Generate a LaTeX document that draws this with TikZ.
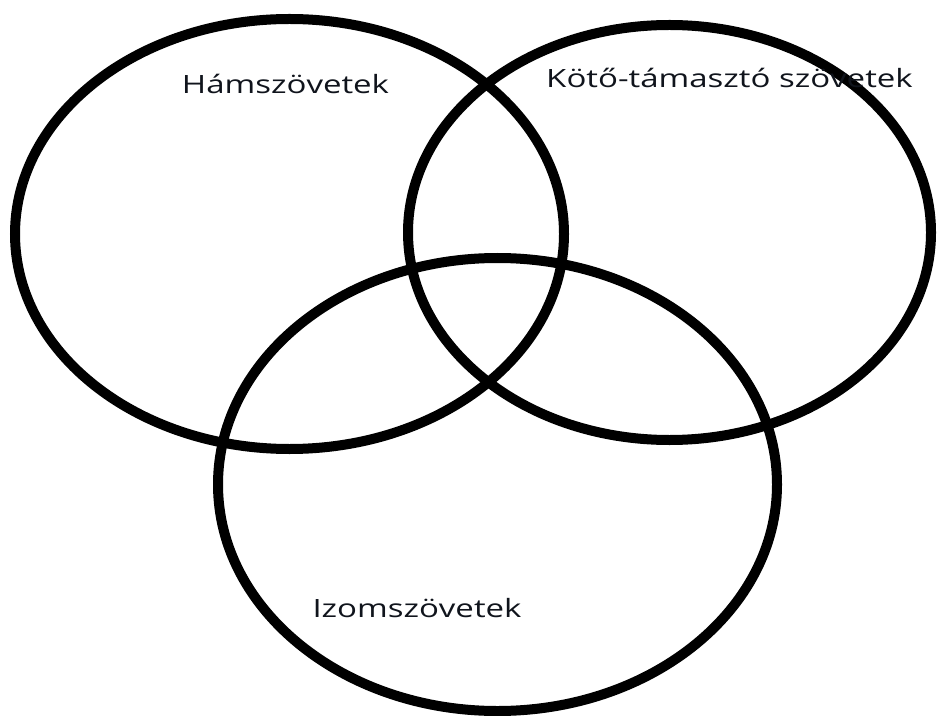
\documentclass[tikz,border=0pt]{standalone}
\usepackage{fontspec}
\setmainfont{Open Sans}
\usetikzlibrary{positioning}
\definecolor{ringblack}{HTML}{000000}
\definecolor{labeldark}{HTML}{10141C}
\tikzset{
  ring/.style={draw=ringblack, line width=7.5pt},
  setlabel/.style={font=\fontsize{18.9pt}{22pt}\selectfont, text=labeldark,
    inner sep=0pt, xscale=1.31, transform shape}
}
\begin{document}
\begin{tikzpicture}[x=0.75pt, y=-0.75pt]
\useasboundingbox[fill=white] (0,0) rectangle (937,716);
% three tissue sets
\draw[ring] (289.5,234) ellipse [x radius=274.5, y radius=215];
\draw[ring] (669.5,232.5) ellipse [x radius=261.5, y radius=207.5];
\draw[ring] (497.5,484.5) ellipse [x radius=279.5, y radius=226.5];
% labels
\node[setlabel] (ham) at (285.5,84) {Hámszövetek};
\node[setlabel] (koto) at (729.5,78) {Kötő-támasztó szövetek};
\node[setlabel] (izom) at (417,608) {Izomszövetek};
\end{tikzpicture}
\end{document}
